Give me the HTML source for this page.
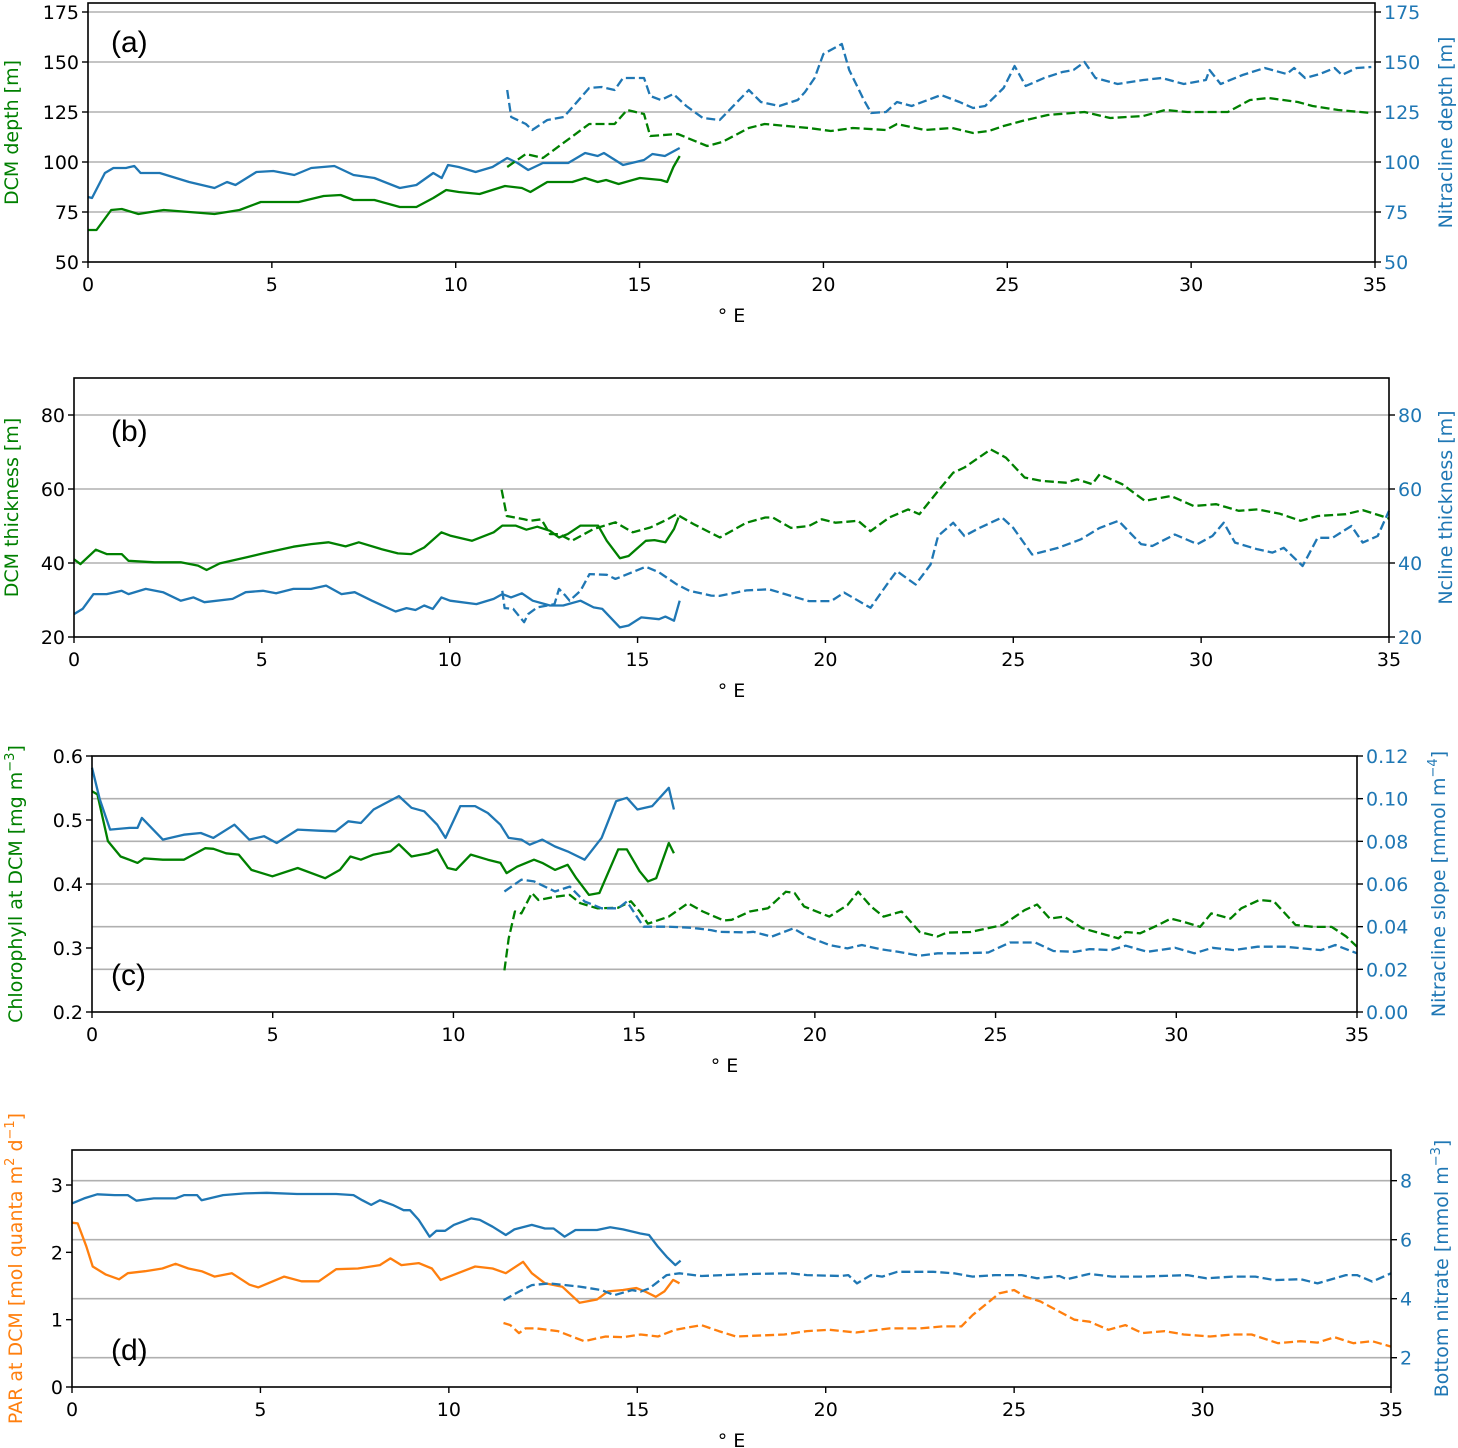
<!DOCTYPE html>
<html><head><meta charset="utf-8">
<style>
html,body{margin:0;padding:0;background:#fff;}
svg{display:block;font-family:"DejaVu Sans","Liberation Sans",sans-serif;}
</style></head>
<body>
<svg id="fig" width="1458" height="1448" viewBox="0 0 1458 1448" xmlns="http://www.w3.org/2000/svg"></svg>
<script>
// ---------- Panel (a) data ----------
const a_dcm_x=[0,0.23,0.63,0.92,1.37,2.06,3.44,4.12,4.70,5.73,6.41,6.87,7.22,7.79,8.48,8.93,9.39,9.74,10.08,10.65,11.34,11.80,12.03,12.49,13.17,13.52,13.86,14.09,14.43,15.01,15.58,15.75,15.92,16.09];
const a_dcm_y=[66,66,76,76.5,74,76,74,76,80,80,83,83.5,81,81,77.5,77.5,82,86,85,84,88,87,85,90,90,92,90,91,89,92,91,90,97.5,103];
const a_nit_x=[0,0.11,0.46,0.69,1.03,1.26,1.43,1.95,2.75,3.44,3.78,4.01,4.58,5.04,5.61,6.07,6.70,7.22,7.79,8.48,8.93,9.39,9.62,9.79,10.08,10.54,11.00,11.40,11.68,11.97,12.37,13.06,13.52,13.86,14.03,14.55,15.12,15.35,15.69,16.09];
const a_nit_y=[82.5,82,94.5,97,97,98,94.5,94.5,90,87,90,88.5,95,95.5,93.5,97,98,93.5,92,87,88.5,94.5,92,98.5,97.5,95,97.5,102,99.5,96,99.5,99.5,104.5,103,104.5,98.5,101,104,103,107];
const a_dcm2_x=[11.40,11.91,12.37,13.63,14.32,14.66,15.12,15.29,16.04,16.84,17.25,17.97,18.4,19.6,20.2,20.8,21.7,22.0,22.75,23.5,24.07,24.5,24.9,25.4,26.1,27.1,27.8,28.7,29.3,29.9,31.0,31.6,32.1,32.9,33.3,34.0,34.9];
const a_dcm2_y=[97.5,104,102,119,119,126,124,113,114,108,110,117,119,117,115.5,117,116,119,116,117,114.5,115.5,118,120.5,123.5,125,122,123,126,125,125,131,132,130,128,126,124.5];
const a_nit2_x=[11.40,11.51,11.91,12.08,12.49,12.94,13.63,13.97,14.32,14.55,15.12,15.29,15.58,15.92,16.27,16.72,17.18,17.97,18.3,18.8,19.3,19.5,19.76,20,20.5,20.7,21.1,21.3,21.7,22.0,22.4,23.2,23.7,24.07,24.4,24.9,25.2,25.5,26.0,26.5,26.8,27.1,27.4,28.0,28.7,29.2,29.8,30.4,30.5,30.8,31.4,32.0,32.6,32.8,33.1,33.5,33.9,34.1,34.5,34.9];
const a_nit2_y=[136,122.5,119,116,121,122.5,137,137.5,136,142,142,133,131,134,128,122,121,136,130,128,131,135,142,154,159,146,131,124.5,125,130,128,133.5,130,127,128,137,148,138,142,145,146,150,142,139,141,142,139,141,146,139,143.5,147,144,147,142,144,147,143.5,147,147.5];

// ---------- Panel (b) data ----------
const b_dcm_x=[0,0.17,0.58,0.87,1.27,1.45,2.14,2.84,3.30,3.53,3.88,4.57,5.03,5.84,6.31,6.77,7.23,7.58,8.16,8.62,8.97,9.32,9.78,10.01,10.59,11.17,11.40,11.75,12.04,12.33,12.67,12.91,13.14,13.48,13.95,14.18,14.53,14.76,15.22,15.45,15.74,15.97,16.09];
const b_dcm_y=[41,39.7,43.6,42.4,42.4,40.6,40.2,40.2,39.3,38.1,39.9,41.5,42.6,44.4,45.1,45.6,44.5,45.6,43.8,42.6,42.4,44.2,48.3,47.4,46,48.3,50.1,50.1,49,49.8,48.7,46.9,47.8,50.1,50.1,46,41.3,41.9,46,46.2,45.6,49.2,52.3];
const b_nit_x=[0,0.23,0.52,0.87,1.27,1.45,1.91,2.37,2.84,3.18,3.47,4.22,4.57,5.03,5.38,5.84,6.31,6.71,7.12,7.47,7.93,8.56,8.85,9.09,9.32,9.55,9.78,10.01,10.71,11.17,11.40,11.63,11.92,12.21,12.67,13.02,13.48,13.83,14.06,14.53,14.76,15.10,15.57,15.74,15.97,16.12];
const b_nit_y=[26.2,27.6,31.6,31.6,32.5,31.6,33,32.1,29.8,30.7,29.4,30.3,32.1,32.5,31.8,33,33,33.9,31.6,32.1,29.8,26.9,27.8,27.3,28.5,27.6,30.7,29.8,28.9,30.3,31.6,30.7,31.8,29.8,28.5,28.5,29.8,28,27.6,22.6,23.1,25.3,24.8,25.5,24.4,29.8];
const b_dcm2_x=[11.38,11.52,11.98,12.15,12.44,12.67,12.91,13.25,13.83,14.41,14.87,15.34,15.80,16.03,16.49,17.19,17.9,18.4,18.6,19.08,19.56,19.9,20.27,20.87,21.2,21.7,22.2,22.5,23.0,23.4,23.7,24.4,24.8,25.3,25.75,26.4,26.7,27.1,27.3,27.9,28.5,29.2,29.8,30.4,31.0,31.5,32.1,32.65,33.1,33.85,34.3,34.8,35];
const b_dcm2_y=[59.8,52.7,51.8,51.4,51.8,47.8,47.8,46,49.2,51,48.3,49.6,51.8,53.2,50.5,46.9,50.9,52.3,52.3,49.5,50,51.8,50.9,51.4,48.6,52.3,54.5,53.2,59.5,64.4,65.8,70.7,68.5,63.1,62.2,61.7,62.6,61.3,64,61.3,56.8,58.1,55.4,55.9,54.1,54.5,53.3,51.4,52.7,53.2,54.3,52.7,52];
const b_nit2_x=[11.40,11.46,11.69,11.98,12.09,12.33,12.79,12.91,13.08,13.19,13.48,13.72,14.18,14.41,14.64,15.22,15.57,16.03,16.38,16.96,17.18,17.9,18.5,19.08,19.56,20.15,20.5,21.2,21.7,21.9,22.4,22.8,23.0,23.4,23.7,24.1,24.7,25.0,25.5,26.2,26.8,27.3,27.8,28.4,28.7,29.3,29.9,30.3,30.6,30.9,31.5,31.9,32.2,32.7,33.1,33.5,34.0,34.3,34.7,35];
const b_nit2_y=[32.5,27.8,27.6,24,26.2,28,28.9,33,31.2,29.8,32.5,37,36.8,35.7,36.6,39,37.5,34.3,32.5,31.2,31.1,32.6,32.9,31.1,29.7,29.7,32,27.9,35.1,37.8,34.2,39.6,47.3,50.9,47.3,49.5,52.3,49.5,42.3,44.1,46.4,49.5,51.4,45.1,44.6,47.7,45.1,47.3,50.9,45.5,43.7,42.8,44.1,39.2,46.8,46.8,50,45.5,47.3,54.1];

// ---------- Panel (c) data ----------
const c_chl_x=[0,0.15,0.44,0.79,1.03,1.26,1.44,1.96,2.54,3.13,3.36,3.71,4.06,4.41,4.99,5.69,6.45,6.86,7.15,7.44,7.79,8.26,8.49,8.84,9.31,9.55,9.84,10.07,10.48,10.95,11.30,11.47,11.76,12.23,12.46,12.81,13.16,13.40,13.75,14.04,14.56,14.80,15.15,15.38,15.61,15.96,16.10];
const c_chl_y=[0.545,0.54,0.467,0.443,0.438,0.433,0.44,0.438,0.438,0.456,0.455,0.448,0.446,0.422,0.412,0.425,0.409,0.422,0.443,0.438,0.446,0.451,0.462,0.443,0.448,0.454,0.425,0.422,0.446,0.438,0.433,0.417,0.427,0.438,0.433,0.422,0.43,0.409,0.383,0.386,0.454,0.454,0.42,0.404,0.409,0.464,0.448];
const c_slope_x=[0,0.21,0.50,1.03,1.26,1.38,1.96,2.54,3.01,3.36,3.94,4.35,4.76,5.11,5.69,6.28,6.74,7.09,7.44,7.79,8.49,8.84,9.19,9.55,9.78,10.19,10.60,10.95,11.30,11.53,11.88,12.11,12.46,12.81,13.16,13.63,14.10,14.50,14.80,15.09,15.50,15.96,16.10];
const c_slope_y=[0.1145,0.100,0.0855,0.0863,0.0863,0.091,0.0808,0.0831,0.0839,0.0816,0.0878,0.0808,0.0824,0.0792,0.0855,0.085,0.0847,0.0894,0.0886,0.0949,0.1012,0.0957,0.0941,0.0878,0.0816,0.0965,0.0965,0.0933,0.0878,0.0816,0.0808,0.0784,0.0808,0.0776,0.0753,0.0714,0.0816,0.0988,0.1004,0.0949,0.0965,0.1051,0.0949];
const c_chl2_x=[11.41,11.53,11.70,11.88,12.17,12.35,12.81,13.22,13.51,13.98,14.56,14.91,15.15,15.38,15.96,16.49,16.90,17.48,17.7,18.2,18.7,19.2,19.44,19.7,20.4,20.9,21.2,21.55,21.9,22.4,22.9,23.4,23.65,24.3,25.2,25.8,26.15,26.5,26.9,27.4,27.9,28.4,28.6,29.0,29.5,29.85,30.2,30.66,30.97,31.5,31.8,32.3,32.7,33.3,33.8,34.3,34.7,35];
const c_chl2_y=[0.265,0.315,0.357,0.354,0.386,0.375,0.38,0.383,0.37,0.362,0.363,0.373,0.357,0.338,0.349,0.37,0.357,0.343,0.344,0.357,0.362,0.388,0.386,0.365,0.349,0.367,0.388,0.365,0.349,0.357,0.325,0.318,0.324,0.325,0.336,0.359,0.368,0.346,0.349,0.331,0.323,0.315,0.325,0.323,0.336,0.346,0.341,0.333,0.354,0.346,0.362,0.375,0.373,0.336,0.333,0.333,0.318,0.302];
const c_slope2_x=[11.41,11.88,12.23,12.81,13.22,13.63,14.10,14.56,14.80,15.26,15.96,16.55,17.13,17.34,18.1,18.3,18.8,19.4,19.8,20.4,20.9,21.3,21.8,22.3,22.9,23.4,24.0,24.8,25.4,26.1,26.6,27.2,27.6,28.2,28.6,29.2,29.97,30.5,31.0,31.6,32.25,33.0,34.0,34.4,35];
const c_slope2_y=[0.0565,0.062,0.0612,0.0565,0.0588,0.0518,0.0486,0.0486,0.0518,0.04,0.04,0.0395,0.0384,0.0376,0.0373,0.0376,0.0353,0.0392,0.0353,0.0314,0.0298,0.0314,0.0295,0.0282,0.0264,0.0275,0.0275,0.0279,0.0326,0.0326,0.0286,0.0282,0.0295,0.029,0.0311,0.0282,0.0301,0.0275,0.0301,0.029,0.0306,0.0306,0.029,0.0314,0.0275];

// ---------- Panel (d) data ----------
const d_par_x=[0,0.15,0.38,0.55,0.90,1.25,1.48,1.94,2.40,2.75,3.09,3.44,3.78,4.24,4.71,4.94,5.63,6.09,6.55,7.01,7.59,8.17,8.45,8.74,9.20,9.55,9.78,10.24,10.70,11.16,11.51,11.97,12.20,12.55,13.01,13.47,13.93,14.22,14.62,14.97,15.20,15.49,15.72,15.95,16.12];
const d_par_y=[2.44,2.43,2.09,1.79,1.67,1.6,1.69,1.72,1.76,1.83,1.76,1.72,1.64,1.69,1.52,1.48,1.64,1.57,1.57,1.75,1.76,1.81,1.91,1.81,1.84,1.76,1.59,1.69,1.79,1.76,1.69,1.86,1.69,1.54,1.49,1.25,1.3,1.42,1.44,1.47,1.42,1.34,1.42,1.59,1.54];
const d_no3_x=[0,0.32,0.67,1.13,1.48,1.71,2.17,2.75,2.98,3.32,3.44,4.01,4.59,5.17,5.97,7.01,7.47,7.70,7.94,8.17,8.51,8.80,8.97,9.20,9.49,9.67,9.90,10.13,10.59,10.82,11.16,11.51,11.74,12.20,12.55,12.78,13.07,13.36,13.93,14.28,14.62,15.08,15.31,15.55,15.78,16.01,16.15];
const d_no3_y=[7.23,7.4,7.54,7.51,7.51,7.32,7.4,7.4,7.51,7.51,7.34,7.51,7.57,7.59,7.55,7.55,7.51,7.34,7.18,7.34,7.18,7.0,7.0,6.67,6.1,6.3,6.3,6.5,6.72,6.67,6.44,6.16,6.35,6.5,6.38,6.38,6.1,6.33,6.33,6.42,6.35,6.21,6.16,5.76,5.42,5.14,5.29];
const d_par2_x=[11.45,11.63,11.86,12.03,12.32,12.89,13.59,14.16,14.62,15.09,15.55,16.01,16.70,17.16,17.62,18.9,19.5,20.1,20.8,21.7,22.5,23.1,23.6,23.9,24.3,24.6,25.0,25.3,25.7,26.2,26.6,27.0,27.5,27.95,28.4,29.0,29.5,30.2,30.8,31.3,32.0,32.6,33.05,33.5,34.0,34.5,35];
const d_par2_y=[0.95,0.92,0.8,0.87,0.87,0.83,0.68,0.75,0.74,0.78,0.75,0.85,0.92,0.83,0.75,0.78,0.83,0.85,0.81,0.87,0.87,0.9,0.9,1.07,1.25,1.39,1.44,1.34,1.27,1.12,1.0,0.97,0.85,0.92,0.8,0.83,0.78,0.75,0.78,0.78,0.65,0.68,0.66,0.74,0.65,0.68,0.6];
const d_no32_x=[11.45,11.86,12.20,12.66,13.47,14.05,14.39,14.86,15.09,15.32,15.78,16.12,16.70,17.28,18.1,19.05,19.5,20.4,20.6,20.83,21.2,21.5,21.9,22.85,23.4,23.9,24.5,25.2,25.6,26.2,26.4,27.0,27.6,28.4,29.6,30.1,30.8,31.4,31.9,32.6,33.05,33.8,34.1,34.5,35];
const d_no32_y=[3.95,4.24,4.46,4.52,4.41,4.29,4.12,4.29,4.24,4.35,4.8,4.86,4.77,4.8,4.84,4.86,4.8,4.77,4.8,4.52,4.8,4.75,4.91,4.91,4.86,4.75,4.8,4.8,4.69,4.77,4.66,4.84,4.75,4.75,4.8,4.69,4.75,4.75,4.63,4.66,4.52,4.8,4.8,4.58,4.86];

// tick label arrays
const xTicks=[0,5,10,15,20,25,30,35];
const aTicks=[50,75,100,125,150,175];
const bTicks=[20,40,60,80];
const cLeftTicks=[0.2,0.3,0.4,0.5,0.6];
const cRightTicks=[0,0.02,0.04,0.06,0.08,0.10,0.12];
const dLeftTicks=[0,1,2,3];
const dRightTicks=[2,4,6,8];

const GREEN='#008000', BLUE='#1f77b4', ORANGE='#ff7f0e';
const NS='http://www.w3.org/2000/svg';
const svg=document.getElementById('fig');
function mk(tag,attrs,parent){const e=document.createElementNS(NS,tag);for(const k in attrs)e.setAttribute(k,attrs[k]);(parent||svg).appendChild(e);return e;}

function panel(p){
  const g=mk('g',{});
  
  
  const sx=v=>p.L+(v-0)/35*(p.R-p.L);
  const syL=v=>p.B-(v-p.lmin)/(p.lmax-p.lmin)*(p.B-p.T);
  const syR=v=>p.B-(v-p.rmin)/(p.rmax-p.rmin)*(p.B-p.T);
  // gridlines
  const gy=p.gridRight?syR:syL;
  p.grid.forEach(v=>{const y=gy(v);
    const l=mk('line',{x1:p.L,x2:p.R,y1:y,y2:y,stroke:'#b0b0b0','stroke-width':1.6},g);
    
    });
  // series
  p.series.forEach(s=>{
    const f=s.right?syR:syL;
    let d='';s.x.forEach((xv,i)=>{d+=(i?'L':'M')+sx(xv).toFixed(1)+','+f(s.y[i]).toFixed(1);});
    const pa=mk('path',{d:d,fill:'none',stroke:s.c,'stroke-width':2.3,'stroke-linejoin':'round'},g);
    if(s.dash)pa.setAttribute('stroke-dasharray','9,4');
    
    
  });
  // frame
  const fr=mk('rect',{x:p.L,y:p.T,width:p.R-p.L,height:p.B-p.T,fill:'none',stroke:'#000','stroke-width':1.6},g);
  
  
  // x ticks
  xTicks.forEach(v=>{const x=sx(v);
    mk('line',{x1:x,x2:x,y1:p.B,y2:p.B+6,stroke:'#000','stroke-width':1.4},g);
    const t=mk('text',{x:x,y:p.B+29,'text-anchor':'middle','font-size':19,fill:'#000'},g);
    t.textContent=v;
    
    });
  const xl=mk('text',{x:(p.L+p.R)/2,y:p.B+60,'text-anchor':'middle','font-size':19},g);
  xl.textContent='° E';
  
  
  // left ticks
  p.lt.forEach(v=>{const y=syL(v);
    mk('line',{x1:p.L-6,x2:p.L,y1:y,y2:y,stroke:'#000','stroke-width':1.4},g);
    const t=mk('text',{x:p.L-9,y:y+7,'text-anchor':'end','font-size':19,fill:'#000'},g);
    t.textContent=p.lfmt?p.lfmt(v):v;
    
    });
  // right ticks
  p.rt.forEach(v=>{const y=syR(v);
    mk('line',{x1:p.R,x2:p.R+6,y1:y,y2:y,stroke:'#000','stroke-width':1.4},g);
    const t=mk('text',{x:p.R+9,y:y+7,'text-anchor':'start','font-size':19,fill:BLUE},g);
    t.textContent=p.rfmt?p.rfmt(v):v;
    
    });
  // y titles
  const cy=(p.T+p.B)/2;
  const yl=mk('text',{transform:'translate('+p.ylx+','+cy+') rotate(-90)','text-anchor':'middle','font-size':19,fill:p.ylc},g);
  yl.innerHTML=p.yl;
  
  
  const yr=mk('text',{transform:'translate('+p.yrx+','+cy+') rotate(-90)','text-anchor':'middle','font-size':19,fill:BLUE},g);
  yr.innerHTML=p.yr;
  
  
  // panel letter
  const pl=mk('text',{x:111,y:p.letterY,'font-size':30,'font-family':'Liberation Sans, sans-serif'},g);
  pl.textContent='('+p.id+')';
  
  
}
const sup=s=>'<tspan dy="-8" font-size="13">'+s+'</tspan><tspan dy="8">';
panel({id:'a',L:88,R:1375,T:3,B:262,lmin:50,lmax:179.5,rmin:50,rmax:179.5,grid:[75,100,125,150,175],gridRight:false,
  lt:aTicks,rt:aTicks,ylx:18,yrx:1452,ylc:GREEN,yl:'DCM depth [m]',yr:'Nitracline depth [m]',letterY:52,
  series:[{x:a_dcm_x,y:a_dcm_y,c:GREEN,name:'dcm-depth-line'},{x:a_nit_x,y:a_nit_y,c:BLUE,right:true,name:'nitracline-depth-line'},
          {x:a_dcm2_x,y:a_dcm2_y,c:GREEN,dash:1,name:'dcm-depth-dashed'},{x:a_nit2_x,y:a_nit2_y,c:BLUE,dash:1,right:true,name:'nitracline-depth-dashed'}]});
panel({id:'b',L:74,R:1389,T:378,B:637,lmin:20,lmax:90,rmin:20,rmax:90,grid:[40,60,80],gridRight:false,
  lt:bTicks,rt:bTicks,ylx:18,yrx:1452,ylc:GREEN,yl:'DCM thickness [m]',yr:'Ncline thickness [m]',letterY:441,
  series:[{x:b_dcm_x,y:b_dcm_y,c:GREEN,name:'dcm-thickness-line'},{x:b_nit_x,y:b_nit_y,c:BLUE,right:true,name:'ncline-thickness-line'},
          {x:b_dcm2_x,y:b_dcm2_y,c:GREEN,dash:1,name:'dcm-thickness-dashed'},{x:b_nit2_x,y:b_nit2_y,c:BLUE,dash:1,right:true,name:'ncline-thickness-dashed'}]});
panel({id:'c',L:92,R:1357,T:756,B:1012,lmin:0.2,lmax:0.6,rmin:0,rmax:0.12,grid:[0.02,0.04,0.06,0.08,0.10],gridRight:true,
  lt:cLeftTicks,rt:cRightTicks,lfmt:v=>v.toFixed(1),rfmt:v=>v.toFixed(2),ylx:22,yrx:1445,ylc:GREEN,
  yl:'Chlorophyll at DCM [mg m'+sup('−3')+']</tspan>',yr:'Nitracline slope [mmol m'+sup('−4')+']</tspan>',letterY:985,
  series:[{x:c_chl_x,y:c_chl_y,c:GREEN,name:'chlorophyll-line'},{x:c_slope_x,y:c_slope_y,c:BLUE,right:true,name:'nitracline-slope-line'},
          {x:c_chl2_x,y:c_chl2_y,c:GREEN,dash:1,name:'chlorophyll-dashed'},{x:c_slope2_x,y:c_slope2_y,c:BLUE,dash:1,right:true,name:'nitracline-slope-dashed'}]});
panel({id:'d',L:72,R:1391,T:1150,B:1387,lmin:0,lmax:3.52,rmin:1.007,rmax:9.04,grid:[2,4,6,8],gridRight:true,
  lt:dLeftTicks,rt:dRightTicks,ylx:22,yrx:1448,ylc:ORANGE,
  yl:'PAR at DCM [mol quanta m'+sup('2')+' d'+sup('−1')+']</tspan></tspan>',yr:'Bottom nitrate [mmol m'+sup('−3')+']</tspan>',letterY:1360,
  series:[{x:d_par_x,y:d_par_y,c:ORANGE,name:'par-line'},{x:d_no3_x,y:d_no3_y,c:BLUE,right:true,name:'bottom-nitrate-line'},
          {x:d_par2_x,y:d_par2_y,c:ORANGE,dash:1,name:'par-dashed'},{x:d_no32_x,y:d_no32_y,c:BLUE,dash:1,right:true,name:'bottom-nitrate-dashed'}]});
</script>
</body></html>
